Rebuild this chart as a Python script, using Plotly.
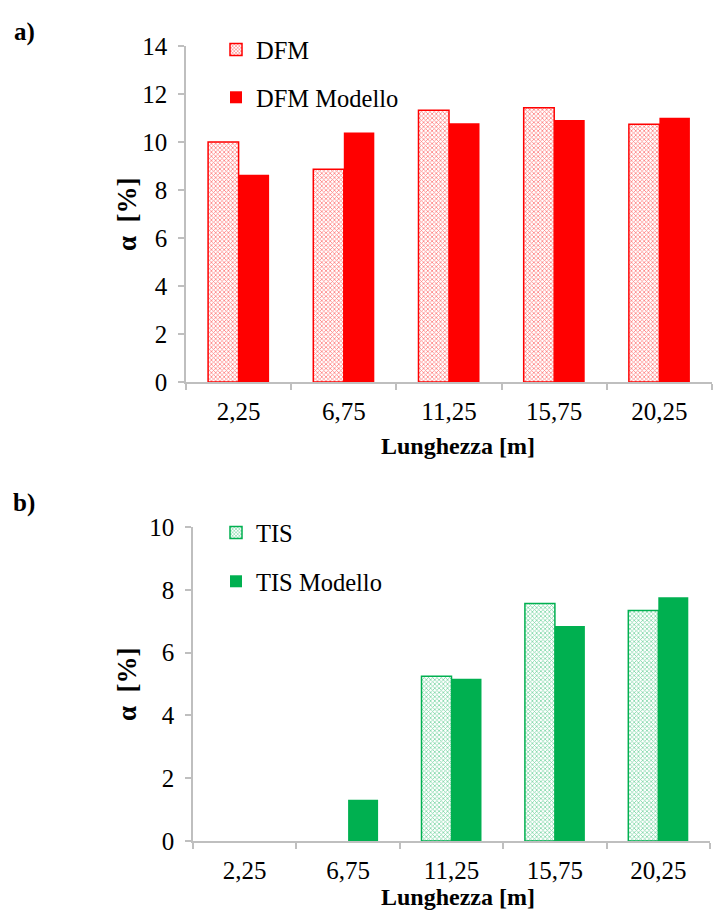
import plotly.graph_objects as go

categories = ["2,25", "6,75", "11,25", "15,75", "20,25"]
dfm = [10.0, 8.86, 11.32, 11.43, 10.74]
dfm_model = [8.64, 10.4, 10.78, 10.92, 11.01]
tis = [None, None, 5.25, 7.56, 7.34]
tis_model = [None, 1.31, 5.17, 6.85, 7.76]

RED = "#FF0000"
GREEN = "#00B050"
AXC = "#BFBFBF"
FONT = "Liberation Serif"

W, H = 725, 921

fig = go.Figure()

fig.add_trace(go.Bar(x=categories, y=dfm, name="DFM", xaxis="x", yaxis="y",
                     legend="legend", legendgroup="a",
                     marker=dict(color="white", line=dict(color=RED, width=1.5),
                                 pattern=dict(shape="x", fgcolor=RED, bgcolor="white",
                                              size=3, solidity=0.45))))
fig.add_trace(go.Bar(x=categories, y=dfm_model, name="DFM Modello", xaxis="x", yaxis="y",
                     legend="legend", legendgroup="b",
                     marker=dict(color=RED, line=dict(width=0))))
fig.add_trace(go.Bar(x=categories, y=tis, name="TIS", xaxis="x2", yaxis="y2",
                     legend="legend2", legendgroup="c",
                     marker=dict(color="white", line=dict(color=GREEN, width=1.5),
                                 pattern=dict(shape="x", fgcolor=GREEN, bgcolor="white",
                                              size=3, solidity=0.45))))
fig.add_trace(go.Bar(x=categories, y=tis_model, name="TIS Modello", xaxis="x2", yaxis="y2",
                     legend="legend2", legendgroup="d",
                     marker=dict(color=GREEN, line=dict(width=0))))

def px(x):
    return x / W

def py(y):
    return 1 - y / H

axis_common = dict(showline=True, linecolor=AXC, linewidth=1.5, showgrid=False, zeroline=False,
                   ticks="outside", tickcolor=AXC, ticklen=6, tickwidth=1.5, automargin=False,
                   ticklabelstandoff=6,
                   tickfont=dict(family=FONT, size=25, color="black"))

def ann(text, x, y, size, angle=0):
    return dict(text=text, x=px(x), y=py(y), xref="paper", yref="paper",
                xanchor="center", yanchor="middle", showarrow=False, textangle=angle,
                font=dict(family=FONT, size=size, color="black"))

fig.update_layout(
    width=W, height=H,
    margin=dict(l=0, r=0, t=0, b=0),
    paper_bgcolor="white", plot_bgcolor="white",
    barmode="group", bargap=0.42, bargroupgap=0,
    font=dict(family=FONT, color="black"),
    xaxis=dict(domain=[px(186), px(712)], anchor="y", tickson="boundaries", **axis_common),
    yaxis=dict(domain=[py(382), py(46)], anchor="x", range=[0, 14], dtick=2, **axis_common),
    xaxis2=dict(domain=[px(193), px(710)], anchor="y2", tickson="boundaries", **axis_common),
    yaxis2=dict(domain=[py(841), py(527)], anchor="x2", range=[0, 10], dtick=2, **axis_common),
    legend=dict(x=px(216), y=py(27), xanchor="left", yanchor="top",
                font=dict(family=FONT, size=24.5), tracegroupgap=13, bgcolor="rgba(0,0,0,0)",
                itemwidth=30),
    legend2=dict(x=px(216), y=py(510), xanchor="left", yanchor="top",
                 font=dict(family=FONT, size=24.5), tracegroupgap=14, bgcolor="rgba(0,0,0,0)",
                 itemwidth=30),
    showlegend=True,
    annotations=[
        ann("<b>a)</b>", 24, 32, 25),
        ann("<b>b)</b>", 24, 503, 25),
        ann("<b>Lunghezza [m]</b>", 458, 446, 24),
        ann("<b>Lunghezza [m]</b>", 458, 897, 24),
        ann("<b>α  [%]</b>", 127, 214, 27, -90),
        ann("<b>α  [%]</b>", 127, 684, 27, -90),
    ],
)

fig.write_html("out.html", config={"displayModeBar": False},
               post_script="document.body.style.margin='0px';")
